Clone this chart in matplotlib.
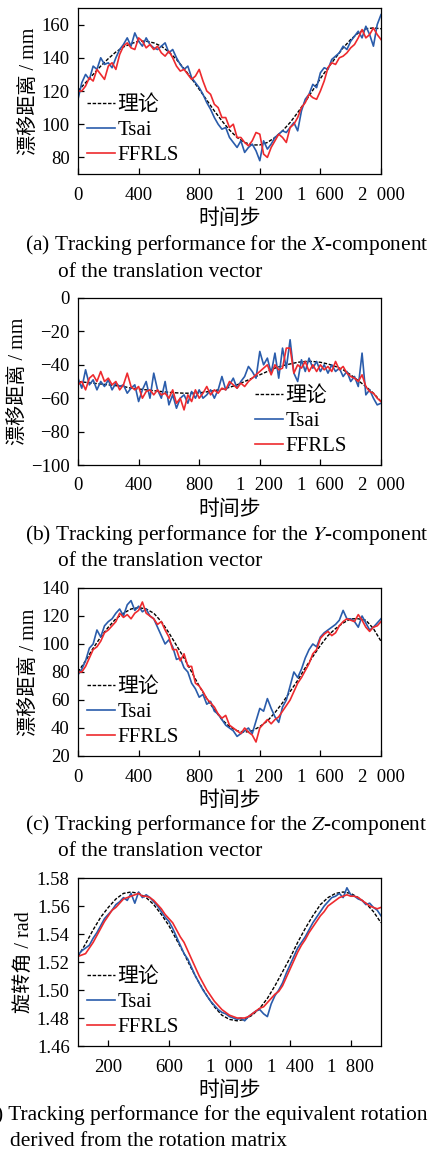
import matplotlib
matplotlib.use("Agg")
import matplotlib.pyplot as plt
import numpy as np

plt.rcParams["font.family"] = ["Liberation Serif", "Noto Sans CJK SC"]
plt.rcParams["mathtext.fontset"] = "stix"

# sample positions (time steps)
T_FINE = np.arange(0, 2001, 25)
T_THEO = np.arange(0, 2001, 50)

# ---- (a) X-component ----
A_THEO = [120, 125, 130, 135, 139.5, 143.5, 146.5, 148.5, 150, 150, 149, 147, 143.5, 139,
          133.5, 127.5, 121, 114.5, 108, 102, 96.5, 92, 89, 87.5, 87.5, 89, 92, 96, 101, 107,
          113.5, 120.5, 127.5, 134, 140, 146, 151, 155, 157.5, 158, 157.5]
A_TSAI = [115, 125, 130, 127, 135, 133, 140, 136, 137, 134, 140, 145, 148, 152, 147, 155, 150,
          147, 152, 148, 146, 145, 147, 149, 143, 145, 140, 136, 133, 135, 128, 125, 122, 118,
          113, 109, 104, 100, 97, 98, 92, 89, 86, 90, 83, 86, 88, 84, 78, 90, 85, 88, 92, 94,
          96, 95, 98, 101, 96, 108, 115, 118, 124, 122, 131, 134, 133, 139, 141, 143, 147, 145,
          150, 153, 156, 152, 159, 154, 147, 160, 166]
A_FFRLS = [120, 120, 123, 128, 126, 133, 130, 127, 135, 137, 133, 142, 147, 149, 146, 145, 152,
           150, 146, 148, 145, 147, 143, 141, 144, 140, 135, 132, 133, 130, 127, 129, 133, 126,
           120, 118, 112, 110, 104, 104, 98, 100, 92, 92, 89, 87, 90, 95, 94, 82, 80, 86, 90,
           94, 92, 89, 98, 100, 104, 110, 113, 118, 116, 115, 120, 126, 134, 137, 136, 140, 141,
           143, 146, 148, 152, 157, 152, 154, 158, 154, 151]

# ---- (b) Y-component ----
B_THEO = [-50, -50.5, -51, -51.5, -52, -52.5, -53, -54, -54.5, -55, -55.5, -56, -56.5, -56.8,
          -57, -57, -56.8, -56.2, -55.5, -54.5, -53.5, -52, -50, -48, -46, -44, -42, -40.5,
          -39.5, -38.5, -38, -38, -38.5, -39.5, -41, -43, -46, -49.5, -53, -57, -62]
B_TSAI = [-48, -54, -43, -52, -49, -55, -50, -53, -49, -55, -51, -53, -52, -57, -54, -52, -62,
          -55, -50, -60, -45, -55, -60, -50, -64, -58, -66, -60, -58, -63, -56, -60, -55, -60,
          -58, -55, -60, -55, -47, -55, -52, -48, -54, -50, -47, -41, -44, -48, -32, -40, -36,
          -45, -33, -48, -30, -42, -25, -45, -50, -37, -44, -36, -42, -38, -44, -40, -45, -40,
          -44, -42, -47, -44, -50, -47, -53, -33, -58, -55, -60, -64, -63]
B_FFRLS = [-52, -50, -55, -48, -46, -50, -44, -50, -48, -52, -50, -55, -52, -45, -53, -55, -53,
           -60, -56, -55, -58, -55, -58, -57, -60, -55, -63, -60, -67, -58, -62, -55, -60, -57,
           -53, -58, -55, -57, -54, -55, -50, -52, -54, -51, -53, -50, -48, -46, -44, -42, -40,
           -46, -40, -43, -42, -30, -30, -45, -40, -42, -38, -44, -40, -44, -40, -43, -41, -44,
           -38, -43, -41, -45, -47, -48, -50, -46, -53, -56, -57, -60, -62]

# ---- (c) Z-component ----
C_THEO = [80, 88, 97, 105, 112, 118, 122, 125, 126, 125, 122, 116, 108, 99, 90, 80, 70, 61,
          53, 46, 41, 38, 37, 38, 41, 45, 51, 58, 66, 74, 83, 91, 99, 106, 111, 115, 118, 118,
          117, 111, 102]
C_TSAI = [78, 82, 88, 97, 100, 110, 105, 113, 116, 118, 122, 125, 120, 128, 131, 124, 127, 123,
          125, 120, 118, 112, 106, 100, 103, 98, 89, 90, 83, 80, 72, 68, 62, 64, 57, 59, 52, 50,
          46, 42, 40, 38, 34, 36, 38, 40, 36, 45, 54, 52, 61, 54, 48, 44, 55, 60, 70, 80, 76,
          82, 90, 96, 100, 98, 105, 108, 110, 112, 114, 117, 124, 118, 118, 116, 112, 120, 115,
          110, 112, 115, 118]
C_FFRLS = [80, 80, 84, 90, 96, 98, 102, 108, 110, 113, 116, 122, 119, 121, 118, 122, 124, 130,
           122, 120, 118, 114, 116, 110, 105, 96, 96, 88, 93, 84, 84, 72, 70, 66, 61, 58, 55, 50,
           47, 49, 42, 40, 38, 36, 40, 37, 35, 30, 40, 43, 46, 43, 46, 48, 52, 56, 60, 66, 72,
           76, 81, 86, 93, 96, 104, 107, 109, 106, 108, 113, 116, 118, 117, 116, 121, 117, 112,
           109, 112, 113, 116]

# ---- (d) rotation angle ----
D_THEO = [1.524, 1.533, 1.543, 1.552, 1.559, 1.565, 1.569, 1.570, 1.569, 1.566, 1.561, 1.554,
          1.546, 1.536, 1.526, 1.515, 1.505, 1.496, 1.488, 1.482, 1.479, 1.478, 1.479, 1.482,
          1.487, 1.494, 1.503, 1.513, 1.523, 1.534, 1.544, 1.553, 1.561, 1.566, 1.569, 1.570,
          1.569, 1.566, 1.562, 1.556, 1.548]
D_TSAI = [1.525, 1.528, 1.530, 1.532, 1.537, 1.541, 1.546, 1.551, 1.554, 1.557, 1.561, 1.563,
          1.566, 1.564, 1.569, 1.562, 1.570, 1.566, 1.568, 1.566, 1.563, 1.560, 1.556, 1.552,
          1.549, 1.544, 1.538, 1.532, 1.526, 1.522, 1.516, 1.510, 1.505, 1.500, 1.496, 1.492,
          1.489, 1.486, 1.484, 1.483, 1.481, 1.480, 1.479, 1.480, 1.478, 1.481, 1.483, 1.485,
          1.486, 1.483, 1.481, 1.490, 1.496, 1.500, 1.505, 1.512, 1.518, 1.524, 1.530, 1.534,
          1.538, 1.543, 1.548, 1.552, 1.556, 1.560, 1.563, 1.566, 1.567, 1.569, 1.566, 1.573,
          1.568, 1.567, 1.565, 1.564, 1.561, 1.562, 1.559, 1.557, 1.553]
D_FFRLS = [1.524, 1.525, 1.526, 1.530, 1.534, 1.539, 1.544, 1.549, 1.553, 1.557, 1.559, 1.562,
           1.565, 1.566, 1.567, 1.568, 1.569, 1.567, 1.567, 1.566, 1.564, 1.561, 1.558, 1.554,
           1.551, 1.548, 1.543, 1.538, 1.534, 1.528, 1.522, 1.516, 1.510, 1.505, 1.500, 1.496,
           1.492, 1.489, 1.486, 1.484, 1.482, 1.481, 1.480, 1.480, 1.480, 1.481, 1.483, 1.485,
           1.487, 1.488, 1.491, 1.494, 1.497, 1.499, 1.503, 1.509, 1.515, 1.521, 1.527, 1.532,
           1.536, 1.541, 1.545, 1.549, 1.553, 1.556, 1.560, 1.562, 1.564, 1.566, 1.567, 1.568,
           1.567, 1.567, 1.566, 1.564, 1.562, 1.560, 1.559, 1.558, 1.559]

SP = "\u2002"
XTICKS_MAIN = [0, 400, 800, 1200, 1600, 2000]
XTICKLABELS_MAIN = ["0", "400", "800", f"1{SP}200", f"1{SP}600", f"2{SP}000"]
XTICKS_ROT = [200, 600, 1000, 1400, 1800]
XTICKLABELS_ROT = ["200", "600", f"1{SP}000", f"1{SP}400", f"1{SP}800"]

LEGEND_LABELS = ["理论", "Tsai", "FFRLS"]
YLABEL_DIST = "漂移距离 / mm"
YLABEL_ROT = "旋转角 / rad"
XLABEL = "时间步"

PANELS = [
    dict(theo=A_THEO, tsai=A_TSAI, ffrls=A_FFRLS, ylim=(70, 170), yticks=[80, 100, 120, 140, 160],
         ylabel=YLABEL_DIST, top=8, bottom=174, leg=(-0.025, -0.045),
         cap=["(a) Tracking performance for the $X$-component", "of the translation vector"]),
    dict(theo=B_THEO, tsai=B_TSAI, ffrls=B_FFRLS, ylim=(-100, 0), yticks=[-100, -80, -60, -40, -20, 0],
         ylabel=YLABEL_DIST, top=298, bottom=465, leg=(0.53, -0.045),
         cap=["(b) Tracking performance for the $Y$-component", "of the translation vector"]),
    dict(theo=C_THEO, tsai=C_TSAI, ffrls=C_FFRLS, ylim=(20, 140), yticks=[20, 40, 60, 80, 100, 120, 140],
         ylabel=YLABEL_DIST, top=588, bottom=756, leg=(-0.025, -0.045),
         cap=["(c) Tracking performance for the $Z$-component", "of the translation vector"]),
    dict(theo=D_THEO, tsai=D_TSAI, ffrls=D_FFRLS, ylim=(1.46, 1.58),
         yticks=[1.46, 1.48, 1.50, 1.52, 1.54, 1.56, 1.58],
         ylabel=YLABEL_ROT, top=878, bottom=1046, leg=(-0.025, -0.045),
         cap=["(d) Tracking performance for the equivalent rotation", "derived from the rotation matrix"]),
]

W, H = 433, 1150
FS = 13.5
CAP_FS = 15.4
LEG_FS = 15
BLUE = "#2a5cab"
RED = "#ee2a2e"

fig = plt.figure(figsize=(W / 100, H / 100), dpi=100)

for i, p in enumerate(PANELS):
    ax = fig.add_axes([78 / W, 1 - p["bottom"] / H, 303 / W, (p["bottom"] - p["top"]) / H])
    ax.plot(T_THEO, p["theo"], color="black", lw=1.0, ls=(0, (2.5, 1.2)), label=LEGEND_LABELS[0])
    ax.plot(T_FINE, p["tsai"], color=BLUE, lw=1.2, label=LEGEND_LABELS[1])
    ax.plot(T_FINE, p["ffrls"], color=RED, lw=1.2, label=LEGEND_LABELS[2])
    ax.set_xlim(0, 2000)
    ax.set_ylim(*p["ylim"])
    ax.set_yticks(p["yticks"])
    if i == 3:
        ax.set_xticks(XTICKS_ROT)
        ax.set_xticklabels(XTICKLABELS_ROT)
        ax.set_yticklabels([f"{v:.2f}" for v in p["yticks"]])
    else:
        ax.set_xticks(XTICKS_MAIN)
        ax.set_xticklabels(XTICKLABELS_MAIN)
        ax.set_yticklabels([str(v).replace("-", "\u2212") for v in p["yticks"]])
    ax.tick_params(direction="in", length=4, width=0.9, labelsize=FS)
    ax.tick_params(axis="x", pad=9)
    ax.tick_params(axis="y", pad=6)
    for s in ax.spines.values():
        s.set_linewidth(0.9)
    ax.set_xlabel(XLABEL, fontsize=15, labelpad=4)
    ax.set_ylabel(p["ylabel"], fontsize=14.5, labelpad=2)
    ax.legend(loc="lower left", bbox_to_anchor=p["leg"], frameon=False, fontsize=LEG_FS,
              handlelength=1.35, handletextpad=0.1, labelspacing=0.25, borderpad=0.3)

    y1 = 1 - (p["top"] + 237) / H
    y2 = 1 - (p["top"] + 264) / H
    if i == 3:
        fig.text(428 / W, y1, p["cap"][0], fontsize=CAP_FS, ha="right", va="center")
        fig.text(10 / W, y2, p["cap"][1], fontsize=CAP_FS, ha="left", va="center")
    else:
        fig.text(25 / W, y1, p["cap"][0], fontsize=CAP_FS, ha="left", va="center")
        fig.text(58 / W, y2, p["cap"][1], fontsize=CAP_FS, ha="left", va="center")

fig.savefig("out.png", dpi=100)
